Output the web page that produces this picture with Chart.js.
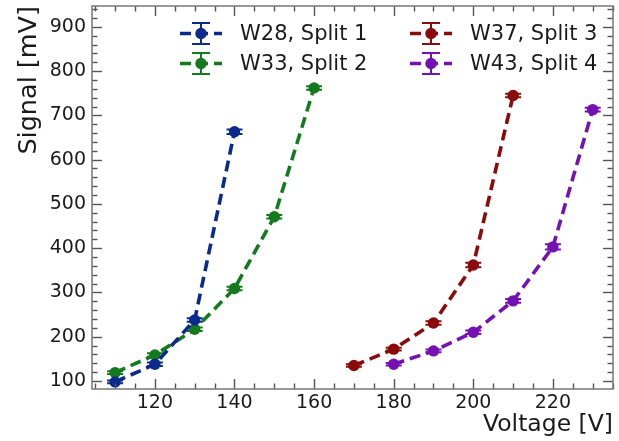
<!DOCTYPE html>
<html><head><meta charset="utf-8">
<script src="https://cdn.jsdelivr.net/npm/chart.js@4.4.0/dist/chart.umd.min.js"></script>
<style>html,body{margin:0;padding:0;background:#fff;}</style>
</head><body>
<canvas id="c" width="619" height="441"></canvas>
<script>
const seriesLabels = ['W28, Split 1', 'W33, Split 2', 'W37, Split 3', 'W43, Split 4'];
const seriesColors = ['#0c2a8e', '#147a1e', '#8b0a0a', '#7410b4'];
const w28Volt = [110, 120, 130, 140];
const w28Sig  = [98, 138, 238, 663];
const w28Err  = [3, 4, 4, 5];
const w33Volt = [110, 120, 130, 140, 150, 160];
const w33Sig  = [119, 159, 217, 309, 471, 762];
const w33Err  = [3, 4, 4, 4, 4, 4];
const w37Volt = [170, 180, 190, 200, 210];
const w37Sig  = [135, 172, 231, 362, 745];
const w37Err  = [3, 3, 4, 5, 4];
const w43Volt = [180, 190, 200, 210, 220, 230];
const w43Sig  = [138, 168, 210, 281, 403, 713];
const w43Err  = [3, 3, 4, 4, 6, 4];
const xTicks = [120, 140, 160, 180, 200, 220];
const yTicks = [100, 200, 300, 400, 500, 600, 700, 800, 900];

const volts = [w28Volt, w33Volt, w37Volt, w43Volt];
const sigs = [w28Sig, w33Sig, w37Sig, w43Sig];
const errs = [w28Err, w33Err, w37Err, w43Err];

const FONT = 'DejaVu Sans';
const DASH = [11, 6];

const datasets = seriesLabels.map((lab, i) => ({
  label: lab,
  data: volts[i].map((v, j) => ({x: v, y: sigs[i][j], e: errs[i][j]})),
  showLine: true,
  borderColor: seriesColors[i],
  backgroundColor: seriesColors[i],
  borderWidth: 3.6,
  borderDash: DASH,
  pointRadius: 5.7,
  pointHoverRadius: 5.7,
  pointBorderWidth: 0,
  pointBackgroundColor: seriesColors[i],
  tension: 0
}));

const decor = {
  id: 'decor',
  beforeDatasetsDraw(chart) {
    const ctx = chart.ctx, xs = chart.scales.x, ys = chart.scales.y;
    ctx.save();
    chart.data.datasets.forEach((ds) => {
      ctx.strokeStyle = ds.borderColor;
      ctx.lineWidth = 2;
      ds.data.forEach(p => {
        const px = xs.getPixelForValue(p.x);
        const y1 = ys.getPixelForValue(p.y + p.e), y2 = ys.getPixelForValue(p.y - p.e);
        ctx.beginPath();
        ctx.moveTo(px, y1); ctx.lineTo(px, y2);
        ctx.moveTo(px - 8, y1); ctx.lineTo(px + 8, y1);
        ctx.moveTo(px - 8, y2); ctx.lineTo(px + 8, y2);
        ctx.stroke();
      });
    });
    ctx.restore();
  },
  afterDraw(chart) {
    const ctx = chart.ctx, xs = chart.scales.x, ys = chart.scales.y;
    const a = chart.chartArea;
    ctx.save();
    ctx.strokeStyle = '#555';
    ctx.lineWidth = 1.4;
    const tick = (x1, y1, x2, y2) => { ctx.beginPath(); ctx.moveTo(x1, y1); ctx.lineTo(x2, y2); ctx.stroke(); };
    for (let v = 105; v <= 235; v += 5) {
      const px = Math.round(xs.getPixelForValue(v)) + 0.5;
      const L = (v % 20 === 0) ? 10 : 5.5;
      tick(px, a.bottom, px, a.bottom - L);
      tick(px, a.top, px, a.top + L);
    }
    for (let v = 100; v <= 940; v += 20) {
      const py = Math.round(ys.getPixelForValue(v)) + 0.5;
      const L = (v % 100 === 0) ? 10 : 5.5;
      tick(a.left, py, a.left + L, py);
      tick(a.right, py, a.right - L, py);
    }
    ctx.strokeStyle = '#777';
    ctx.lineWidth = 1.5;
    ctx.strokeRect(a.left, a.top, a.right - a.left, a.bottom - a.top);
    const colX = [180, 410], textX = [240, 470], rowY = [33.5, 63.5];
    chart.data.datasets.forEach((ds, i) => {
      const col = Math.floor(i / 2), row = i % 2;
      const x0 = colX[col], y = rowY[row], cx = x0 + 21;
      ctx.strokeStyle = ds.borderColor;
      ctx.fillStyle = ds.borderColor;
      ctx.lineWidth = 3.6;
      ctx.setLineDash(DASH);
      ctx.beginPath(); ctx.moveTo(x0, y); ctx.lineTo(x0 + 42, y); ctx.stroke();
      ctx.setLineDash([]);
      ctx.lineWidth = 2;
      ctx.beginPath();
      ctx.moveTo(cx, y - 10.5); ctx.lineTo(cx, y + 10.5);
      ctx.moveTo(cx - 9, y - 10.5); ctx.lineTo(cx + 9, y - 10.5);
      ctx.moveTo(cx - 9, y + 10.5); ctx.lineTo(cx + 9, y + 10.5);
      ctx.stroke();
      ctx.beginPath(); ctx.arc(cx, y, 5.7, 0, Math.PI * 2); ctx.fill();
      ctx.fillStyle = '#1a1a1a';
      ctx.font = '21px "' + FONT + '"';
      ctx.textBaseline = 'middle';
      ctx.textAlign = 'left';
      ctx.fillText(ds.label, textX[col], y + 1);
    });
    ctx.restore();
  }
};

new Chart(document.getElementById('c'), {
  type: 'scatter',
  data: {datasets},
  plugins: [decor],
  options: {
    responsive: false,
    animation: false,
    devicePixelRatio: 1,
    layout: {padding: {top: 6, right: 6, left: 0, bottom: 0}},
    plugins: {legend: {display: false}, tooltip: {enabled: false}},
    scales: {
      x: {
        type: 'linear', min: 104.2, max: 235.1,
        afterBuildTicks: s => { s.ticks = xTicks.map(v => ({value: v})); },
        afterFit: s => { s.height = 52; s.paddingLeft = 0; s.paddingRight = 0; },
        grid: {display: false, drawTicks: false},
        border: {display: false},
        ticks: {font: {family: FONT, size: 19}, color: '#1a1a1a', padding: 3, maxRotation: 0, autoSkip: false},
        title: {display: true, text: 'Voltage [V]', align: 'end', color: '#1a1a1a',
                font: {family: FONT, size: 23.5}, padding: {top: 0, bottom: 2}}
      },
      y: {
        type: 'linear', min: 82, max: 947,
        afterBuildTicks: s => { s.ticks = yTicks.map(v => ({value: v})); },
        afterFit: s => { s.width = 92; s.paddingTop = 0; s.paddingBottom = 0; },
        grid: {display: false, drawTicks: false},
        border: {display: false},
        ticks: {font: {family: FONT, size: 19}, color: '#1a1a1a', padding: 6, autoSkip: false},
        title: {display: true, text: 'Signal [mV]', align: 'end', color: '#1a1a1a',
                font: {family: FONT, size: 25.5}, padding: {top: 14, bottom: 0}}
      }
    }
  }
});
</script>
</body></html>
